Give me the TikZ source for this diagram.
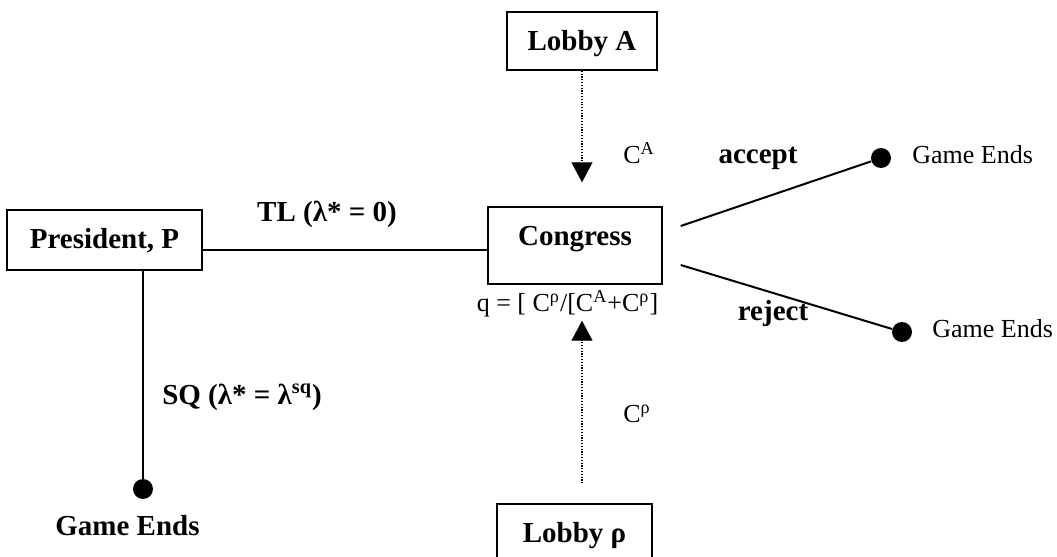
\documentclass[tikz,border=0pt]{standalone}
\usepackage{fontspec}
\setmainfont{Liberation Serif}
\usetikzlibrary{arrows.meta}

\begin{document}
\begin{tikzpicture}[x=0.5pt, y=-0.5pt,
    actor/.style={draw, line width=0.7pt, font=\fontsize{14.5}{17}\selectfont\bfseries,
        inner sep=0pt, text height=19pt, anchor=base},
    endpt/.style={circle, fill, inner sep=0pt, minimum size=10pt},
    move/.style={inner sep=0pt, font=\fontsize{14.5}{17}\selectfont\bfseries},
    note/.style={inner sep=0pt, font=\fontsize{13}{15}\selectfont},
    branch/.style={line width=1pt},
    flow/.style={line width=0.6pt, dash pattern=on 0.6pt off 0.8pt,
        -{Triangle[width=10.5pt,length=10pt]}}]
    \useasboundingbox (0,0) rectangle (1057,557);

    % players
    \node[actor, minimum width=97.5pt, text depth=11pt] (pres) at (104.5,248) {President, P};
    \node[actor, minimum width=87pt, text depth=19.5pt] (cong) at (575,245) {Congress};
    \node[actor, minimum width=75pt, text depth=10pt] (loba) at (582,50) {Lobby A};
    \node[actor, minimum width=77.5pt, text depth=20pt] (lobr) at (574.5,542) {Lobby ρ};

    % terminal points
    \node[endpt] (sqend) at (143,489) {};
    \node[endpt] (accend) at (881,158) {};
    \node[endpt] (rejend) at (902,332) {};

    \draw[branch] ([yshift=-5pt]pres.east) -- ([yshift=-5pt]pres.east -| cong.west);
    \draw[branch] ([xshift=19.25pt]pres.south) -- (sqend);
    \draw[branch] ([xshift=9pt,yshift=9.75pt]cong.east) -- (accend);
    \draw[branch] ([xshift=9pt,yshift=-9.75pt]cong.east) -- (rejend);

    % contributions
    \draw[flow, shorten >=12pt] (loba.south) -- (loba.south |- cong.north);
    \draw[flow, shorten <=10pt, shorten >=18pt] (lobr.north -| loba.south) -- (loba.south |- cong.south);

    \node[move] (tl) at (327,214) {TL (λ* = 0)};
    \node[move] (sq) at (242,397) {SQ (λ* = λ\textsuperscript{sq})};
    \node[move, anchor=base] (acc) at (758,163) {accept};
    \node[move, anchor=base] (rej) at (773,320) {reject};
    \node[move, anchor=base east] (gend) at (200,535) {Game Ends};
    \node[note, anchor=base west] (aend) at (912,163) {Game Ends};
    \node[note, anchor=base west] (rend) at (932,337) {Game Ends};
    \node[note, anchor=base west] (ca) at (623,163) {C\textsuperscript{A}};
    \node[note, anchor=base west] (cr) at (623,422) {C\textsuperscript{ρ}};
    \node[note, anchor=base] (share) at (567.5,311) {q = [ C\textsuperscript{ρ}/[C\textsuperscript{A}+C\textsuperscript{ρ}]};
\end{tikzpicture}
\end{document}
